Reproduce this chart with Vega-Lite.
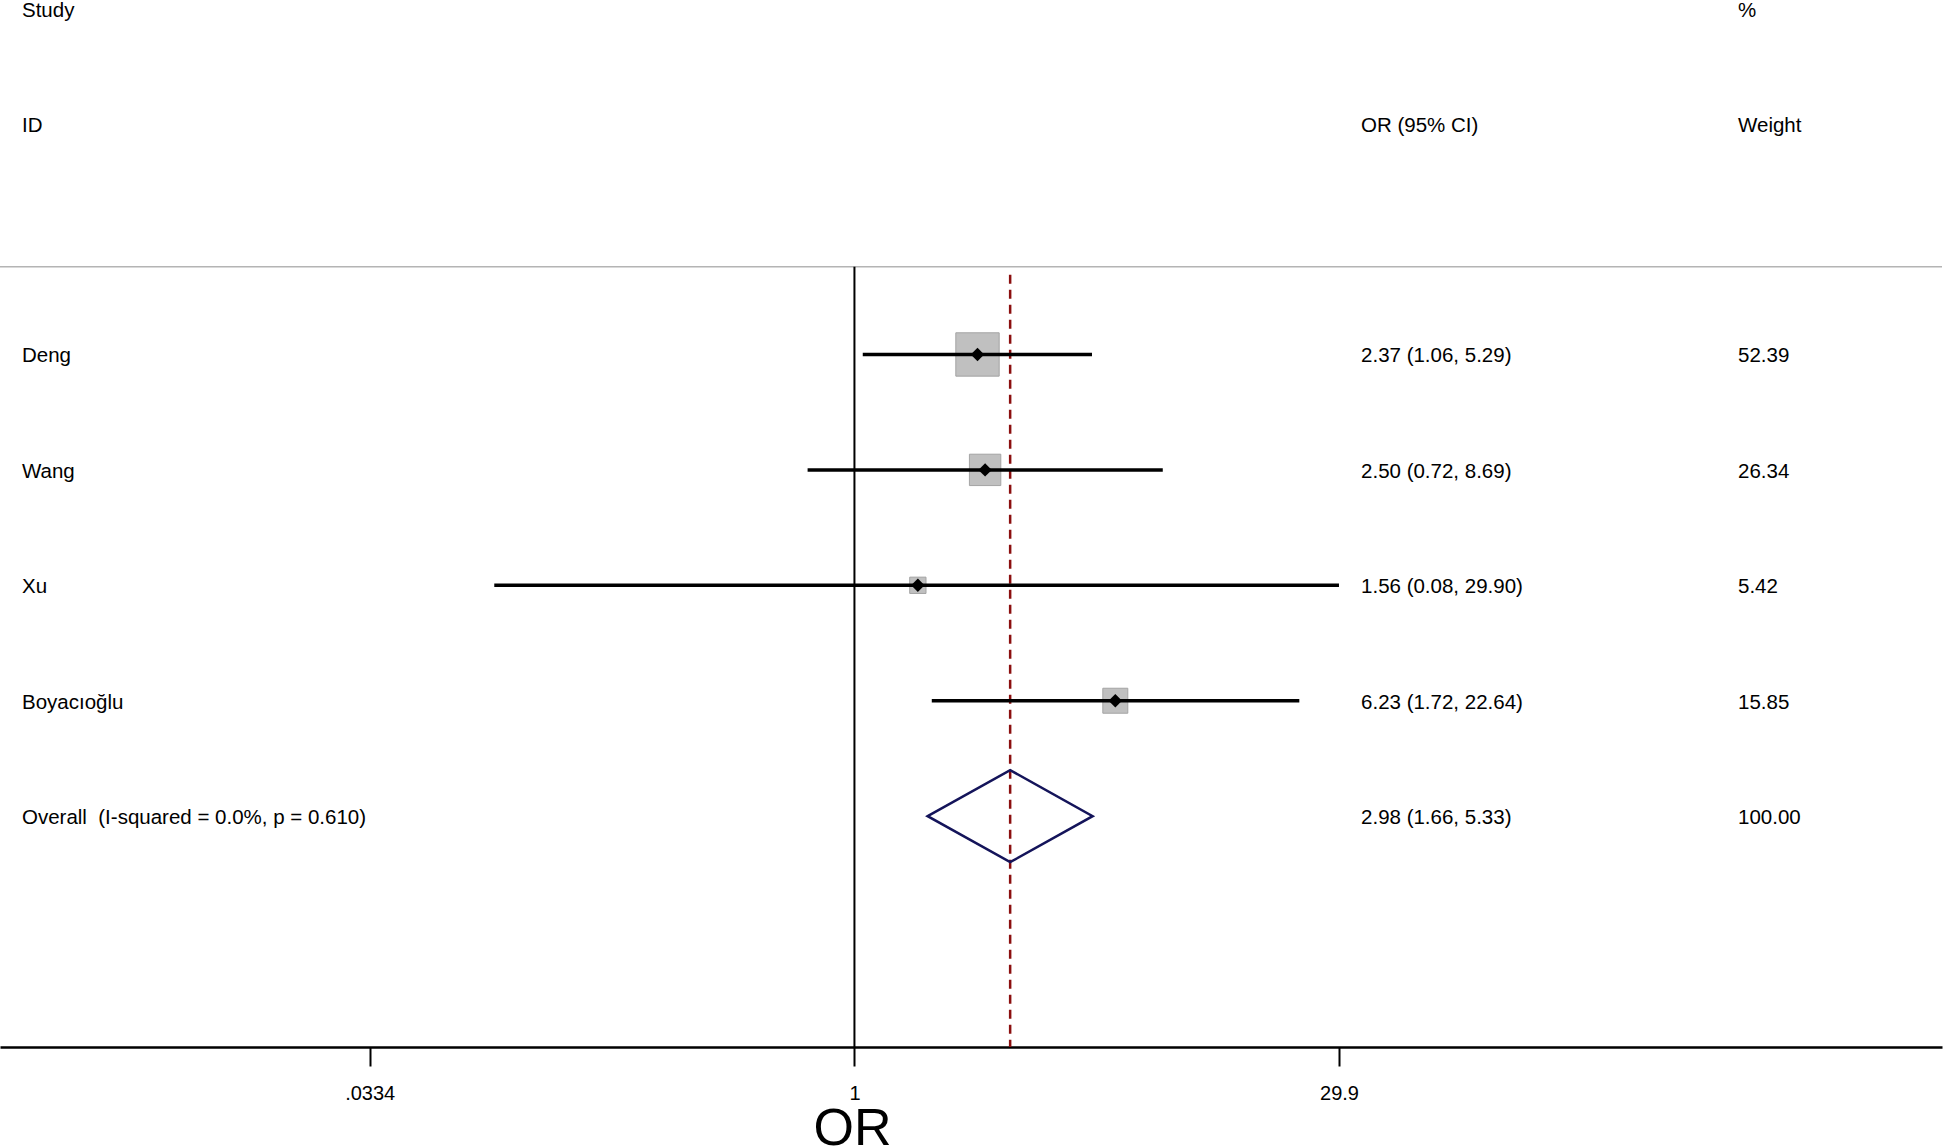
{
  "$schema": "https://vega.github.io/schema/vega-lite/v6.json",
  "width": 1942,
  "height": 1047,
  "autosize": {"type": "none"},
  "padding": {"left": 0, "top": 0, "right": 4, "bottom": 101},
  "background": "white",
  "config": {
    "view": {"stroke": null},
    "font": "Liberation Sans",
    "text": {"font": "Liberation Sans", "fontSize": 20.5, "align": "left", "baseline": "middle", "color": "black", "dy": 2}
  },
  "data": {
    "values": [
      {"study": "Deng", "or": 2.37, "lo": 1.06, "hi": 5.29, "weight": 52.39, "ci": "2.37 (1.06, 5.29)", "row": 1, "kind": "study"},
      {"study": "Wang", "or": 2.50, "lo": 0.72, "hi": 8.69, "weight": 26.34, "ci": "2.50 (0.72, 8.69)", "row": 2, "kind": "study"},
      {"study": "Xu", "or": 1.56, "lo": 0.08, "hi": 29.90, "weight": 5.42, "ci": "1.56 (0.08, 29.90)", "row": 3, "kind": "study"},
      {"study": "Boyacıoğlu", "or": 6.23, "lo": 1.72, "hi": 22.64, "weight": 15.85, "ci": "6.23 (1.72, 22.64)", "row": 4, "kind": "study"},
      {"study": "Overall\u00a0 (I-squared = 0.0%, p = 0.610)", "or": 2.98, "lo": 1.66, "hi": 5.33, "weight": 100.00, "ci": "2.98 (1.66, 5.33)", "row": 5, "kind": "overall"}
    ]
  },
  "encoding": {
    "x": {
      "type": "quantitative",
      "scale": {"type": "log", "domain": [0.002499, 2052], "nice": false},
      "axis": {
        "orient": "bottom",
        "values": [0.0334, 1, 29.9],
        "labelExpr": "datum.value == 1 ? '1' : (datum.value < 1 ? '.0334' : '29.9')",
        "grid": false,
        "domainColor": "black",
        "domainWidth": 2.5,
        "tickColor": "black",
        "tickWidth": 2,
        "tickSize": 19,
        "labelFont": "Liberation Sans",
        "labelFontSize": 20,
        "labelColor": "black",
        "labelPadding": 17,
        "labelFlush": false,
        "labelOverlap": false,
        "title": "OR",
        "titleFont": "Liberation Sans",
        "titleFontSize": 52,
        "titleFontWeight": "normal",
        "titleColor": "black",
        "titleX": 852,
        "titleY": 97,
        "titleAlign": "center",
        "titleBaseline": "alphabetic"
      }
    },
    "y": {
      "type": "quantitative",
      "scale": {"domain": [-2.071, 7], "reverse": true, "nice": false, "zero": false},
      "axis": null
    }
  },
  "layer": [
    {
      "data": {"values": [{}]},
      "mark": {"type": "rule", "color": "#b4b4b4", "strokeWidth": 1.5},
      "encoding": {"x": null, "y": {"datum": 0.241}}
    },
    {
      "data": {"values": [{}]},
      "mark": {"type": "rule", "color": "black", "strokeWidth": 2},
      "encoding": {"x": {"datum": 1}, "y": {"datum": 0.241}, "y2": {"datum": 7}}
    },
    {
      "transform": [{"filter": "datum.kind == 'overall'"}],
      "mark": {"type": "rule", "color": "#8b0f0f", "strokeWidth": 2.5, "strokeDash": [9, 6]},
      "encoding": {"x": {"field": "or"}, "y": {"datum": 0.31}, "y2": {"datum": 7}}
    },
    {
      "transform": [{"filter": "datum.kind == 'study'"}],
      "mark": {"type": "point", "shape": "square", "filled": true, "fill": "#c0c0c0", "stroke": "#a4a4a4", "strokeWidth": 1, "opacity": 1},
      "encoding": {
        "x": {"field": "or"},
        "y": {"field": "row"},
        "size": {"field": "weight", "type": "quantitative", "scale": {"domain": [0, 52.39], "range": [80, 1880]}, "legend": null}
      }
    },
    {
      "transform": [{"filter": "datum.kind == 'study'"}],
      "mark": {"type": "rule", "color": "black", "strokeWidth": 3.5},
      "encoding": {"x": {"field": "lo"}, "x2": {"field": "hi"}, "y": {"field": "row"}}
    },
    {
      "transform": [{"filter": "datum.kind == 'study'"}],
      "mark": {"type": "point", "shape": "diamond", "filled": true, "color": "black", "size": 180, "opacity": 1},
      "encoding": {"x": {"field": "or"}, "y": {"field": "row"}}
    },
    {
      "transform": [{"filter": "datum.kind == 'overall'"}],
      "mark": {"type": "point", "shape": "M -1 0 L 0 -0.558 L 1 0 L 0 0.558 Z", "filled": false, "fill": "transparent", "stroke": "#14145a", "strokeWidth": 2.5, "size": 27225, "opacity": 1},
      "encoding": {"x": {"field": "or"}, "y": {"field": "row"}}
    },
    {
      "mark": {"type": "text"},
      "encoding": {"x": {"datum": 0.002915}, "y": {"field": "row"}, "text": {"field": "study"}}
    },
    {
      "mark": {"type": "text"},
      "encoding": {"x": {"datum": 34.9}, "y": {"field": "row"}, "text": {"field": "ci"}}
    },
    {
      "mark": {"type": "text"},
      "encoding": {"x": {"datum": 490.8}, "y": {"field": "row"}, "text": {"field": "weight", "format": ".2f"}}
    },
    {
      "data": {"values": [{}]},
      "mark": {"type": "text", "text": "Study", "dy": 3},
      "encoding": {"x": {"datum": 0.002915}, "y": {"datum": -2}}
    },
    {
      "data": {"values": [{}]},
      "mark": {"type": "text", "text": "ID"},
      "encoding": {"x": {"datum": 0.002915}, "y": {"datum": -1}}
    },
    {
      "data": {"values": [{}]},
      "mark": {"type": "text", "text": "OR (95% CI)"},
      "encoding": {"x": {"datum": 34.9}, "y": {"datum": -1}}
    },
    {
      "data": {"values": [{}]},
      "mark": {"type": "text", "text": "%", "dy": 3},
      "encoding": {"x": {"datum": 490.8}, "y": {"datum": -2}}
    },
    {
      "data": {"values": [{}]},
      "mark": {"type": "text", "text": "Weight"},
      "encoding": {"x": {"datum": 490.8}, "y": {"datum": -1}}
    }
  ]
}
